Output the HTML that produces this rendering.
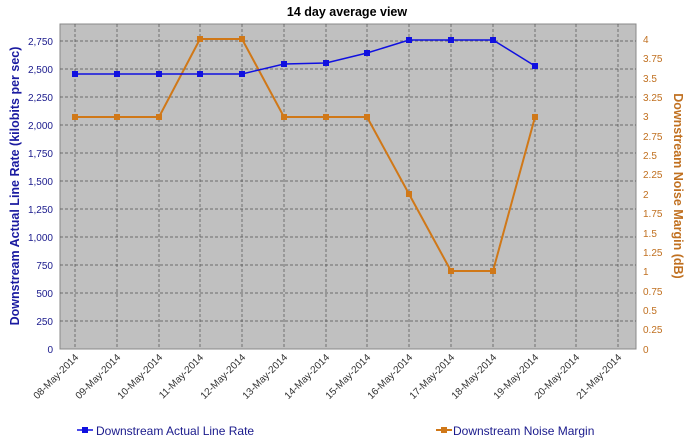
<!DOCTYPE html>
<html><head><style>body{margin:0;background:#fff}svg{display:block;font-family:"Liberation Sans",sans-serif}</style></head><body>
<svg width="694" height="444" xmlns="http://www.w3.org/2000/svg">
<text x="347" y="16" text-anchor="middle" font-size="12.5" font-weight="bold">14 day average view</text>
<rect x="60" y="24" width="576" height="325" fill="#c0c0c0" stroke="#888"/>
<g stroke="#505050" stroke-dasharray="3,2" stroke-width="0.7">
<line x1="60" x2="636" y1="41" y2="41"/><line x1="60" x2="636" y1="69" y2="69"/><line x1="60" x2="636" y1="97" y2="97"/><line x1="60" x2="636" y1="125" y2="125"/><line x1="60" x2="636" y1="153" y2="153"/><line x1="60" x2="636" y1="181" y2="181"/><line x1="60" x2="636" y1="209" y2="209"/><line x1="60" x2="636" y1="237" y2="237"/><line x1="60" x2="636" y1="265" y2="265"/><line x1="60" x2="636" y1="293" y2="293"/><line x1="60" x2="636" y1="321" y2="321"/>
<line y1="24" y2="349" x1="75" x2="75"/><line y1="24" y2="349" x1="117" x2="117"/><line y1="24" y2="349" x1="159" x2="159"/><line y1="24" y2="349" x1="200" x2="200"/><line y1="24" y2="349" x1="242" x2="242"/><line y1="24" y2="349" x1="284" x2="284"/><line y1="24" y2="349" x1="326" x2="326"/><line y1="24" y2="349" x1="367" x2="367"/><line y1="24" y2="349" x1="409" x2="409"/><line y1="24" y2="349" x1="451" x2="451"/><line y1="24" y2="349" x1="493" x2="493"/><line y1="24" y2="349" x1="535" x2="535"/><line y1="24" y2="349" x1="576" x2="576"/><line y1="24" y2="349" x1="618" x2="618"/>
</g>
<g font-size="10" fill="#1a1a8c" text-anchor="end">
<text x="53" y="45">2,750</text><text x="53" y="73">2,500</text><text x="53" y="101">2,250</text><text x="53" y="129">2,000</text><text x="53" y="157">1,750</text><text x="53" y="185">1,500</text><text x="53" y="213">1,250</text><text x="53" y="241">1,000</text><text x="53" y="269">750</text><text x="53" y="297">500</text><text x="53" y="325">250</text><text x="53" y="353">0</text>
</g>
<g font-size="10" fill="#c07020">
<text x="643" y="43">4</text><text x="643" y="62">3.75</text><text x="643" y="82">3.5</text><text x="643" y="101">3.25</text><text x="643" y="120">3</text><text x="643" y="140">2.75</text><text x="643" y="159">2.5</text><text x="643" y="178">2.25</text><text x="643" y="198">2</text><text x="643" y="217">1.75</text><text x="643" y="237">1.5</text><text x="643" y="256">1.25</text><text x="643" y="275">1</text><text x="643" y="295">0.75</text><text x="643" y="314">0.5</text><text x="643" y="333">0.25</text><text x="643" y="353">0</text>
</g>
<text transform="translate(19,186) rotate(-90)" text-anchor="middle" font-size="12.5" font-weight="bold" fill="#1a1aa0">Downstream Actual Line Rate  (kilobits per sec)</text>
<text transform="translate(674,186) rotate(90)" text-anchor="middle" font-size="12.5" font-weight="bold" fill="#c07020">Downstream Noise Margin  (dB)</text>
<g font-size="10" fill="#333" text-anchor="end">
<text transform="translate(79,358) rotate(-45)">08-May-2014</text><text transform="translate(121,358) rotate(-45)">09-May-2014</text><text transform="translate(163,358) rotate(-45)">10-May-2014</text><text transform="translate(204,358) rotate(-45)">11-May-2014</text><text transform="translate(246,358) rotate(-45)">12-May-2014</text><text transform="translate(288,358) rotate(-45)">13-May-2014</text><text transform="translate(330,358) rotate(-45)">14-May-2014</text><text transform="translate(371,358) rotate(-45)">15-May-2014</text><text transform="translate(413,358) rotate(-45)">16-May-2014</text><text transform="translate(455,358) rotate(-45)">17-May-2014</text><text transform="translate(497,358) rotate(-45)">18-May-2014</text><text transform="translate(539,358) rotate(-45)">19-May-2014</text><text transform="translate(580,358) rotate(-45)">20-May-2014</text><text transform="translate(622,358) rotate(-45)">21-May-2014</text>
</g>
<polyline fill="none" stroke="#d07818" stroke-width="2" points="75,117 117,117 159,117 200,39 242,39 284,117 326,117 367,117 409,194 451,271 493,271 535,117"/>
<g fill="#d07818"><rect x="72" y="114" width="6" height="6"/><rect x="114" y="114" width="6" height="6"/><rect x="156" y="114" width="6" height="6"/><rect x="197" y="36" width="6" height="6"/><rect x="239" y="36" width="6" height="6"/><rect x="281" y="114" width="6" height="6"/><rect x="323" y="114" width="6" height="6"/><rect x="364" y="114" width="6" height="6"/><rect x="406" y="191" width="6" height="6"/><rect x="448" y="268" width="6" height="6"/><rect x="490" y="268" width="6" height="6"/><rect x="532" y="114" width="6" height="6"/></g>
<polyline fill="none" stroke="#1010e0" stroke-width="1.5" points="75,74 117,74 159,74 200,74 242,74 284,64 326,63 367,53 409,40 451,40 493,40 535,66"/>
<g fill="#1010e0"><rect x="72" y="71" width="6" height="6"/><rect x="114" y="71" width="6" height="6"/><rect x="156" y="71" width="6" height="6"/><rect x="197" y="71" width="6" height="6"/><rect x="239" y="71" width="6" height="6"/><rect x="281" y="61" width="6" height="6"/><rect x="323" y="60" width="6" height="6"/><rect x="364" y="50" width="6" height="6"/><rect x="406" y="37" width="6" height="6"/><rect x="448" y="37" width="6" height="6"/><rect x="490" y="37" width="6" height="6"/><rect x="532" y="63" width="6" height="6"/></g>
<line x1="77" x2="93" y1="430" y2="430" stroke="#1010e0" stroke-width="1.5"/><rect x="82" y="427" width="6" height="6" fill="#1010e0"/>
<text x="96" y="435" font-size="12" fill="#1a1a8c">Downstream Actual Line Rate</text>
<line x1="436" x2="452" y1="430" y2="430" stroke="#d07818" stroke-width="2"/><rect x="441" y="427" width="6" height="6" fill="#d07818"/>
<text x="453" y="435" font-size="12" fill="#1a1a8c">Downstream Noise Margin</text>
</svg>
</body></html>
